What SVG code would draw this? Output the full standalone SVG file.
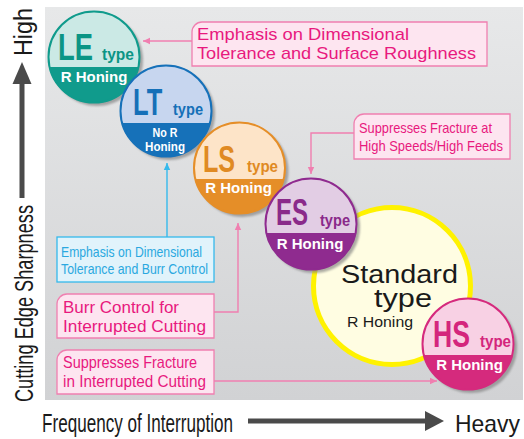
<svg xmlns="http://www.w3.org/2000/svg" width="524" height="439" viewBox="0 0 524 439">
<style>
.ax{font-family:"Liberation Sans",Arial,sans-serif;fill:#1a1a1a}
.pk{fill:#fde5f0;stroke:#f07fb0;stroke-width:1.3}
.cy{fill:#e1f3fb;stroke:#35b9ec;stroke-width:1.3}
.pt{font-family:"Liberation Sans",Arial,sans-serif;fill:#e8197e}
.ct{font-family:"Liberation Sans",Arial,sans-serif;fill:#2aa8e0}
.big{font-family:"Liberation Sans",Arial,sans-serif;font-weight:bold;font-size:37px}
.ty{font-family:"Liberation Sans",Arial,sans-serif;font-weight:bold;font-size:16px}
.rh{font-family:"Liberation Sans",Arial,sans-serif;font-weight:bold;font-size:15px;fill:#fff;text-anchor:middle}
.nr{font-family:"Liberation Sans",Arial,sans-serif;font-weight:bold;font-size:13px;fill:#fff;text-anchor:middle}
.cn{fill:none;stroke-width:1.4}
.shd{fill:#808080;opacity:0.65;filter:url(#bl)}
</style>
<defs>
<linearGradient id="bg" x1="0" y1="0" x2="0" y2="1">
<stop offset="0" stop-color="#e7e8e9"/>
<stop offset="1" stop-color="#d1d2d4"/>
</linearGradient>
<clipPath id="cc"><circle cx="0" cy="0" r="46"/></clipPath>
<filter id="bl" x="-20%" y="-20%" width="140%" height="140%"><feGaussianBlur stdDeviation="1"/></filter>
<marker id="ap" markerUnits="userSpaceOnUse" markerWidth="8" markerHeight="8" refX="7" refY="4" orient="auto"><path d="M0,0.8 L7,4 L0,7.2 Z" fill="#f07fb0"/></marker>
<marker id="ac" markerUnits="userSpaceOnUse" markerWidth="8" markerHeight="8" refX="7" refY="4" orient="auto"><path d="M0,0.8 L7,4 L0,7.2 Z" fill="#35b9ec"/></marker>
</defs>
<rect width="524" height="439" fill="#fff"/>
<rect x="45" y="7" width="478" height="393" fill="url(#bg)"/>

<g id="axes">
<rect x="19.5" y="82" width="5" height="116" fill="#4a4a4a"/>
<path d="M22,62 L12.5,84 L31.5,84 Z" fill="#4a4a4a"/>
<text class="ax" font-size="25" transform="translate(32,56) rotate(-90)" textLength="48" lengthAdjust="spacingAndGlyphs">High</text>
<text class="ax" font-size="26" transform="translate(33,402) rotate(-90)" textLength="197" lengthAdjust="spacingAndGlyphs">Cutting Edge Sharpness</text>
<rect x="248" y="418.5" width="178" height="5" fill="#4a4a4a"/>
<path d="M425,411 L444,421 L425,431 Z" fill="#4a4a4a"/>
<text class="ax" font-size="25" x="42" y="432" textLength="191" lengthAdjust="spacingAndGlyphs">Frequency of Interruption</text>
<text class="ax" font-size="24" x="455" y="432" textLength="65" lengthAdjust="spacingAndGlyphs">Heavy</text>
</g>

<g id="connectors">
<path class="cn" stroke="#f07fb0" d="M192,41 H143" marker-end="url(#ap)"/>
<path class="cn" stroke="#f07fb0" d="M354,133 H311 V174" marker-end="url(#ap)"/>
<path class="cn" stroke="#35b9ec" d="M167,237 V163" marker-end="url(#ac)"/>
<path class="cn" stroke="#f07fb0" d="M214,312 H238 V223" marker-end="url(#ap)"/>
<path class="cn" stroke="#f07fb0" d="M214,381 H437" marker-end="url(#ap)"/>
</g>

<g id="box-le">
<path class="pk" d="M192,66 V32 A10,10 0 0 1 202,22 H487 V66 Z"/>
<text class="pt" font-size="17" x="197" y="40" textLength="212" lengthAdjust="spacingAndGlyphs">Emphasis on Dimensional</text>
<text class="pt" font-size="17" x="197" y="59" textLength="279" lengthAdjust="spacingAndGlyphs">Tolerance and Surface Roughness</text>
</g>
<g id="box-es">
<path class="pk" d="M354,159 V124 A10,10 0 0 1 364,114 H510 V159 Z"/>
<text class="pt" font-size="14.5" x="359" y="133" textLength="133" lengthAdjust="spacingAndGlyphs">Suppresses Fracture at</text>
<text class="pt" font-size="14.5" x="359" y="151" textLength="144" lengthAdjust="spacingAndGlyphs">High Speeds/High Feeds</text>
</g>
<g id="box-lt">
<rect class="cy" x="57" y="237" width="157" height="45"/>
<text class="ct" font-size="15" x="61" y="257" textLength="141" lengthAdjust="spacingAndGlyphs">Emphasis on Dimensional</text>
<text class="ct" font-size="15" x="61" y="274" textLength="147" lengthAdjust="spacingAndGlyphs">Tolerance and Burr Control</text>
</g>
<g id="box-ls">
<path class="pk" d="M57,338 V304 A10,10 0 0 1 67,294 H214 V338 Z"/>
<text class="pt" font-size="17" x="63" y="313" textLength="116" lengthAdjust="spacingAndGlyphs">Burr Control for</text>
<text class="pt" font-size="17" x="63" y="332" textLength="143" lengthAdjust="spacingAndGlyphs">Interrupted Cutting</text>
</g>
<g id="box-hs">
<path class="pk" d="M57,394 V360 A10,10 0 0 1 67,350 H214 V394 Z"/>
<text class="pt" font-size="17" x="63" y="368" textLength="134" lengthAdjust="spacingAndGlyphs">Suppresses Fracture</text>
<text class="pt" font-size="17" x="63" y="387" textLength="143" lengthAdjust="spacingAndGlyphs">in Interrupted Cutting</text>
</g>

<g id="standard">
<circle cx="392" cy="286" r="78.5" fill="#fffde2" stroke="#fff200" stroke-width="5"/>
<text class="ax" font-size="26" x="341" y="283" textLength="117" lengthAdjust="spacingAndGlyphs">Standard</text>
<text class="ax" font-size="26" x="374" y="307" textLength="58" lengthAdjust="spacingAndGlyphs">type</text>
<text class="ax" font-size="15" x="347" y="327" fill="#333" textLength="66" lengthAdjust="spacingAndGlyphs">R Honing</text>
</g>

<g id="le" transform="translate(94,57)">
<circle class="shd" cx="3" cy="3" r="46"/>
<g clip-path="url(#cc)"><rect x="-50" y="-50" width="100" height="100" fill="#109b8c"/><rect x="-50" y="-50" width="100" height="60" fill="#cbe9e5"/></g>
<circle r="45.5" fill="none" stroke="#109b8c" stroke-width="2"/>
<text class="big" transform="translate(-36,3) scale(0.74,1)" fill="#0b9585">LE</text>
<text class="ty" x="8" y="3" fill="#0b9585" textLength="32" lengthAdjust="spacingAndGlyphs">type</text>
<text class="rh" x="0" y="25">R Honing</text>
</g>

<g id="lt" transform="translate(166,111)">
<circle class="shd" cx="3" cy="3" r="46"/>
<g clip-path="url(#cc)"><rect x="-50" y="-50" width="100" height="100" fill="#1671b9"/><rect x="-50" y="-50" width="100" height="62" fill="#c7d6ef"/></g>
<circle r="45.5" fill="none" stroke="#1671b9" stroke-width="2"/>
<text class="big" transform="translate(-33,4) scale(0.69,1)" fill="#1570b8">LT</text>
<text class="ty" x="7" y="4" fill="#1570b8" textLength="30" lengthAdjust="spacingAndGlyphs">type</text>
<text class="nr" x="-1" y="26" textLength="25" lengthAdjust="spacingAndGlyphs">No R</text>
<text class="nr" x="-1" y="40" textLength="40" lengthAdjust="spacingAndGlyphs">Honing</text>
</g>

<g id="ls" transform="translate(239.5,168)">
<circle class="shd" cx="3" cy="3" r="46"/>
<g clip-path="url(#cc)"><rect x="-50" y="-50" width="100" height="100" fill="#e58e28"/><rect x="-50" y="-50" width="100" height="61" fill="#fde4c8"/></g>
<circle r="45.5" fill="none" stroke="#e58e28" stroke-width="2"/>
<text class="big" transform="translate(-36.5,4) scale(0.68,1)" fill="#e08a23">LS</text>
<text class="ty" x="7.5" y="4" fill="#e08a23" textLength="31" lengthAdjust="spacingAndGlyphs">type</text>
<text class="rh" x="-1" y="25">R Honing</text>
</g>

<g id="es" transform="translate(311,224)">
<circle class="shd" cx="3" cy="3" r="46"/>
<g clip-path="url(#cc)"><rect x="-50" y="-50" width="100" height="100" fill="#8f2b8f"/><rect x="-50" y="-50" width="100" height="59" fill="#e2cde4"/></g>
<circle r="45.5" fill="none" stroke="#8f2b8f" stroke-width="2"/>
<text class="big" transform="translate(-35,1) scale(0.65,1)" fill="#8a2a8a">ES</text>
<text class="ty" x="9" y="2" fill="#8a2a8a" textLength="30" lengthAdjust="spacingAndGlyphs">type</text>
<text class="rh" x="-1" y="25">R Honing</text>
</g>

<g id="hs" transform="translate(468,344)">
<circle class="shd" cx="3" cy="3" r="46"/>
<g clip-path="url(#cc)"><rect x="-50" y="-50" width="100" height="100" fill="#d52a7d"/><rect x="-50" y="-50" width="100" height="61" fill="#f8d1e4"/></g>
<circle r="45.5" fill="none" stroke="#d52a7d" stroke-width="2"/>
<text class="big" transform="translate(-35,3) scale(0.72,1)" fill="#d4267c">HS</text>
<text class="ty" x="12" y="3" fill="#d4267c" textLength="31" lengthAdjust="spacingAndGlyphs">type</text>
<text class="rh" x="1.5" y="26">R Honing</text>
</g>
</svg>
